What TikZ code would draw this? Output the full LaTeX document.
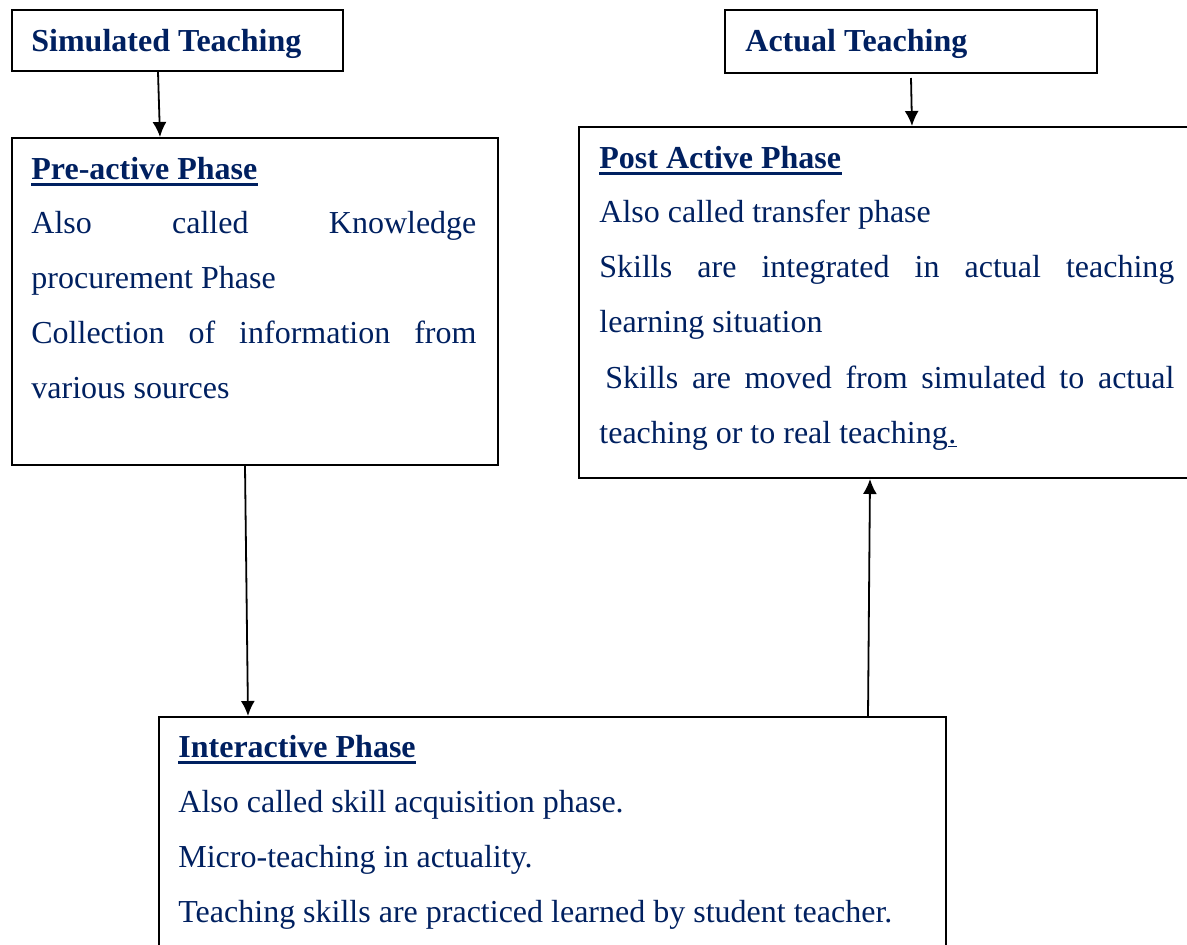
\documentclass[tikz,border=0pt]{standalone}
\usepackage{fontspec}
\setmainfont{Liberation Serif}
\usetikzlibrary{calc,arrows.meta}
\definecolor{navy}{RGB}{0,32,96}
\begin{document}
\begin{tikzpicture}[x=0.5pt, y=-0.5pt,
  box/.style={draw, line width=1pt, anchor=north west, inner sep=0pt},
  txt/.style={anchor=base west, inner sep=0pt, text=navy, font=\fontsize{16}{19}\selectfont},
  head/.style={txt, font=\fontsize{16}{19}\selectfont\bfseries},
  uline/.style={draw=navy, line width=1.4pt},
  arr/.style={line width=0.9pt, -{Latex[length=7.5pt,width=7pt]}}]
\useasboundingbox (0,0) rectangle (1187,944);

% Draw the boxes
\node[box, minimum width=165.5pt, minimum height=30.5pt] (sim) at (11,9) {};
\node[box, minimum width=186pt, minimum height=31.5pt] (act) at (724,9) {};
\node[box, minimum width=243pt, minimum height=163.5pt] (pre) at (11,137) {};
\node[box, minimum width=310pt, minimum height=175.5pt] (post) at (578,126) {};
\node[box, minimum width=393.5pt, minimum height=130pt] (inter) at (158,716) {};

% Titles on top
\node[head] (simT) at (31,51) {Simulated Teaching};
\node[head] (actT) at (745,51) {Actual Teaching};

% Pre-active phase
\node[head] (preH) at (31,179) {Pre-active Phase};
\node[txt] (pre1) at (31,233) {\makebox[222.5pt][s]{Also called Knowledge}};
\node[txt] (pre2) at (31,288) {procurement Phase};
\node[txt] (pre3) at (31,343) {\makebox[222.5pt][s]{Collection of information from}};
\node[txt] (pre4) at (31,398) {various sources};

% Post active phase
\node[head] (postH) at (599,168) {Post Active Phase};
\node[txt] (post1) at (599,222) {Also called transfer phase};
\node[txt] (post2) at (599,277) {\makebox[287.5pt][s]{Skills are integrated in actual teaching}};
\node[txt] (post3) at (599,332) {learning situation};
\node[txt] (post4) at (605,388) {\makebox[284.5pt][s]{Skills are moved from simulated to actual}};
\node[txt] (post5) at (599,443) {teaching or to real teaching};
\node[txt] (dot) at (post5.base east) {.};

% Interactive phase
\node[head] (interH) at (178,757) {Interactive Phase};
\node[txt] (inter1) at (178,812) {Also called skill acquisition phase.};
\node[txt] (inter2) at (178,867) {Micro-teaching in actuality.};
\node[txt] (inter3) at (178,922) {Teaching skills are practiced learned by student teacher.};

% Underlines
\draw[uline] ([yshift=-2.6pt]preH.base west) -- ([yshift=-2.6pt]preH.base east);
\draw[uline] ([yshift=-2.6pt]postH.base west) -- ([yshift=-2.6pt]postH.base east);
\draw[uline] ([yshift=-2.6pt]interH.base west) -- ([yshift=-2.6pt]interH.base east);
\draw[navy, line width=0.6pt] ([yshift=-1.8pt]dot.base west) -- ([yshift=-1.8pt]dot.base east);

% Arrows between the boxes
\draw[arr] ($(sim.south west)+(147,0)$) -- ($(pre.north west)+(149,0)$);
\draw[arr] ($(act.south west)+(187,4)$) -- ($(post.north west)+(334,0)$);
\draw[arr] ($(pre.south west)+(234,0)$) -- ($(inter.north west)+(90,0)$);
\draw[arr] ($(inter.north west)+(710,0)$) -- ($(post.south west)+(292,0)$);
\end{tikzpicture}
\end{document}
